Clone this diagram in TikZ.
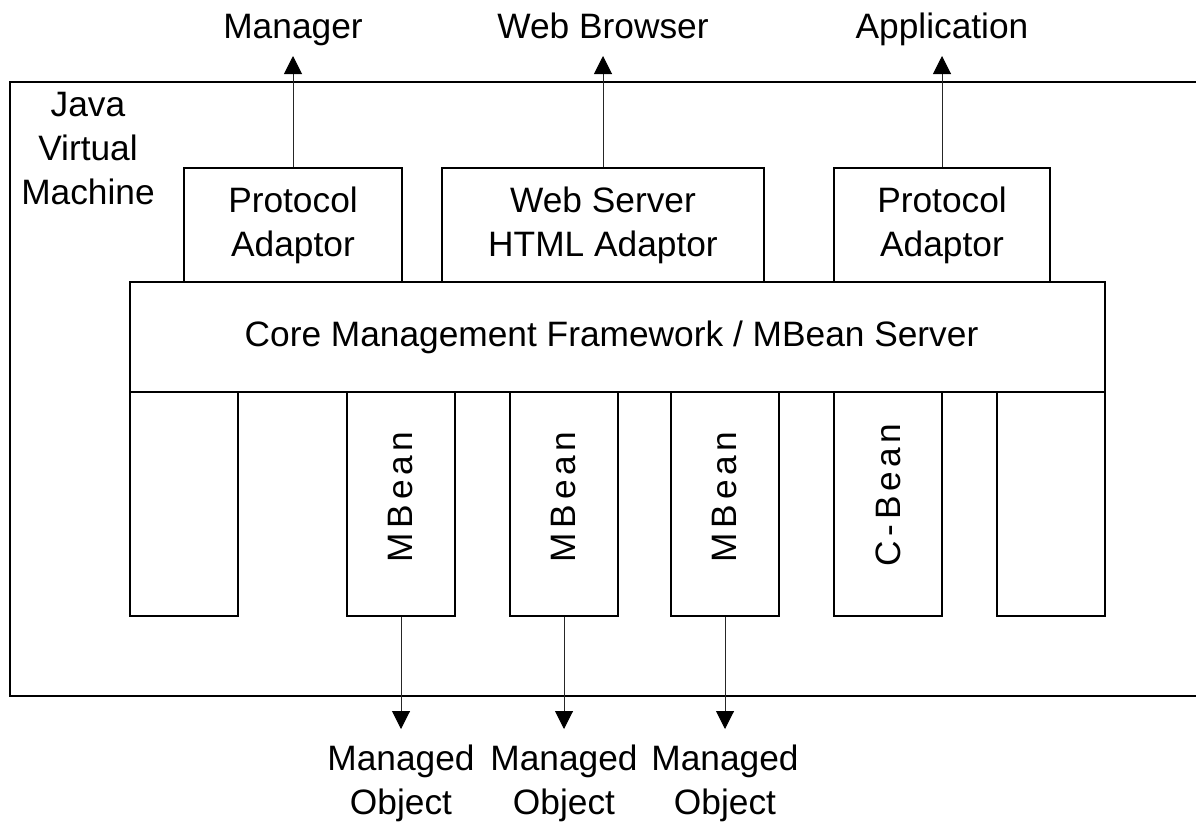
\documentclass[tikz,border=0pt]{standalone}
\usepackage{fontspec}
\setmainfont{Liberation Sans}
\usetikzlibrary{arrows.meta}
\newcommand\dfont{\fontsize{35.3}{44}\selectfont}
\begin{document}
\begin{tikzpicture}[x=1pt,y=-1pt,
  box/.style={draw, line width=1.2pt, inner sep=0pt, align=center, font=\dfont},
  colbox/.style={box, minimum width=108pt, minimum height=224pt},
  vlabel/.style={rotate=90, inner sep=0pt, font={\dfont\addfontfeature{LetterSpace=13}}},
  lbl/.style={inner sep=0pt, align=center, font=\dfont},
  arr/.style={line width=1pt, black!85, -{Triangle[width=18pt,length=18pt,fill=black,color=black]}}]
\useasboundingbox (0,0) rectangle (1196,828);
% JVM frame (right side runs beyond the picture)
\draw[line width=1.2pt] (1200,82) -- (10,82) -- (10,696) -- (1200,696);
\node[lbl] (jvm) at (88,149) {Java\\Virtual\\Machine};
% adaptors
\node[box, minimum width=218pt, minimum height=114pt] (pa1) at (293,225) {Protocol\\Adaptor};
\node[box, minimum width=322pt, minimum height=114pt] (web) at (603,225) {Web Server\\HTML Adaptor};
\node[box, minimum width=216pt, minimum height=114pt] (pa2) at (942,225) {Protocol\\Adaptor};
% core
\node[box, minimum width=975pt, minimum height=110pt] (core) at (617.5,337) {\hspace*{-12pt}Core Management Framework / MBean Server};
% columns
\node[colbox] (b1) at (184,504) {};
\node[colbox] (b2) at (401,504) {};
\node[colbox] (b3) at (564,504) {};
\node[colbox] (b4) at (725,504) {};
\node[colbox] (b5) at (888,504) {};
\node[colbox] (b6) at (1051,504) {};
\node[vlabel] (t2) at ([yshift=7pt]b2.center) {MBean};
\node[vlabel] (t3) at ([yshift=7pt]b3.center) {MBean};
\node[vlabel] (t4) at ([yshift=7pt]b4.center) {MBean};
\node[vlabel] (t5) at ([yshift=9pt]b5.center) {C-Bean};
% top labels and arrows
\node[lbl, anchor=base] (mgr) at (293,38) {Manager};
\node[lbl, anchor=base] (wb) at (603,38) {Web Browser};
\node[lbl, anchor=base] (app) at (942,38) {Application};
\coordinate (u1) at (293,56);
\coordinate (u2) at (603,56);
\coordinate (u3) at (942,56);
\draw[arr] (pa1.north) -- (u1);
\draw[arr] (web.north) -- (u2);
\draw[arr] (pa2.north) -- (u3);
% bottom arrows and labels
\coordinate (d2) at (401,729);
\coordinate (d3) at (564,729);
\coordinate (d4) at (725,729);
\draw[arr] (b2.south) -- (d2);
\draw[arr] (b3.south) -- (d3);
\draw[arr] (b4.south) -- (d4);
\node[lbl] (mo1) at (401,783) {Managed\\Object};
\node[lbl] (mo2) at (564,783) {Managed\\Object};
\node[lbl] (mo3) at (725,783) {Managed\\Object};
\end{tikzpicture}
\end{document}
